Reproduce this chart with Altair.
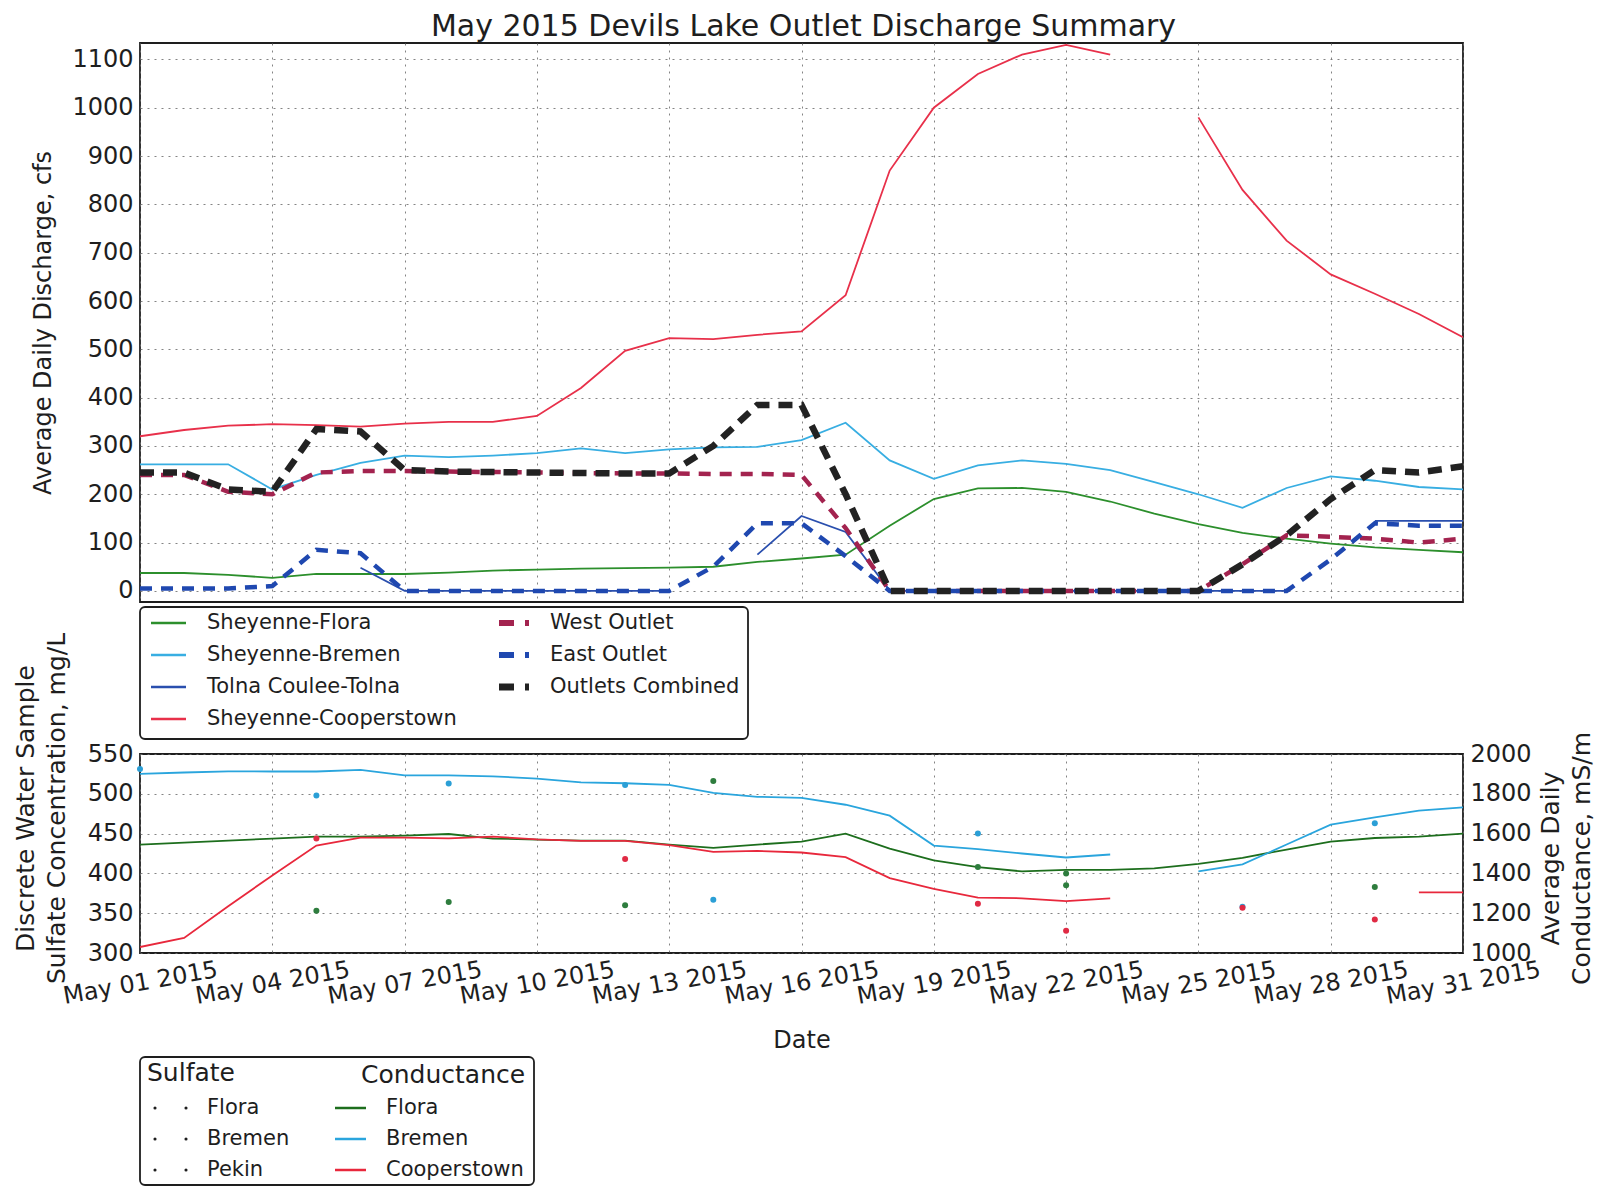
import altair as alt
import pandas as pd

FONT = "DejaVu Sans"
INK = "#1e1e1e"

days = list(range(1, 32))
tick_days = [1, 4, 7, 10, 13, 16, 19, 22, 25, 28, 31]
cfs_ticks = list(range(0, 1101, 100))
sulf_ticks = [300, 350, 400, 450, 500, 550]
cond_ticks = [1000, 1200, 1400, 1600, 1800, 2000]

# ---------------- discharge, cfs (May 1 .. May 31) ----------------
q_flora = [37, 37, 33, 27, 35, 35, 35, 38, 42, 44, 46, 47, 48, 50, 60, 67, 75, 135, 190, 212,
           213, 205, 185, 160, 138, 120, 108, 98, 90, 85, 80]
q_bremen = [262, 262, 262, 210, 240, 265, 280, 277, 280, 285, 295, 285, 293, 297, 298, 312, 348,
            270, 232, 260, 270, 263, 250, 225, 200, 172, 213, 237, 228, 215, 210]
q_tolna = [None, None, None, None, None, 48, 0, 0, 0, 0, 0, 0, 0, None, 75, 155, 122, 0, 0, 0,
           0, 0, 0, 0, 0, 0, 0, None, 145, 145, 145]
q_coop = [320, 333, 342, 345, 343, 340, 346, 350, 350, 362, 420, 497, 523, 521, 530, 537, 612,
          870, 1000, 1070, 1110, 1130, 1110, None, 980, 830, 725, 655, 615, 573, 525]
q_west = [240, 240, 205, 200, 245, 248, 248, 247, 246, 245, 244, 243, 243, 242, 242, 240, 130,
          0, 0, 0, 0, 0, 0, 0, 0, 55, 115, 112, 108, 100, 108]
q_east = [5, 5, 5, 10, 85, 78, 0, 0, 0, 0, 0, 0, 0, 50, 140, 140, 72, 0, 0, 0, 0, 0, 0, 0, 0,
          0, 0, 65, 140, 135, 135]
q_comb = [245, 245, 210, 205, 335, 330, 250, 247, 246, 245, 244, 243, 243, 300, 385, 385, 200,
          0, 0, 0, 0, 0, 0, 0, 0, 55, 115, 190, 250, 245, 258]

series_names = ["Sheyenne-Flora", "Sheyenne-Bremen", "Tolna Coulee-Tolna", "Sheyenne-Cooperstown",
                "West Outlet", "East Outlet", "Outlets Combined"]
series_colors = ["#2c8f2c", "#38aee2", "#2a4fae", "#e8304a", "#a3234f", "#1f48b0", "#222222"]
solid_names = series_names[:4]
outlet_names = ["West Outlet", "East Outlet"]

# ---------------- conductance, mS/m ----------------
c_flora = [1545, 1555, 1565, 1575, 1585, 1585, 1590, 1598, 1575, 1570, 1565, 1565, 1545, 1528,
           1545, 1560, 1600, 1525, 1465, 1432, 1410, 1418, 1418, 1425, 1448, 1478, 1520, 1560,
           1578, 1585, 1600]
c_bremen = [1900, 1907, 1913, 1912, 1912, 1920, 1893, 1893, 1888, 1876, 1857, 1853, 1845, 1805,
            1785, 1780, 1745, 1690, 1540, 1522, 1500, 1480, 1495, None, 1410, 1445, 1545, 1645,
            1682, 1715, 1732]
c_coop = [1030, 1076, 1235, 1390, 1540, 1580, 1580, 1576, 1585, 1571, 1563, 1563, 1542, 1508,
          1513, 1505, 1482, 1376, 1322, 1278, 1275, 1261, 1275, None, None, None, None, None,
          None, 1305, 1305]
cond_names = ["Flora", "Bremen", "Cooperstown"]
cond_colors = ["#1d6e1d", "#2aa5dd", "#e8283c"]

# ---------------- sulfate samples, mg/L ----------------
s_flora_days = [5, 8, 12, 14, 20, 22, 22, 29]
s_flora_vals = [353, 364, 360, 516, 408, 400, 385, 383]
s_bremen_days = [1, 5, 8, 12, 14, 20, 26, 29]
s_bremen_vals = [531, 498, 513, 511, 367, 450, 358, 463]
s_pekin_days = [5, 12, 20, 22, 26, 29]
s_pekin_vals = [444, 418, 362, 328, 357, 342]
sulf_names = ["Flora", "Bremen", "Pekin"]
sulf_colors = ["#2e7d3e", "#2b9fd6", "#e02a44"]


def long_df(names, arrays, value_name, key):
    rows = []
    for name, arr in zip(names, arrays):
        seg = 0
        for d, v in zip(days, arr):
            if v is None:
                seg += 1
                continue
            rows.append({"day": d, key: name, value_name: v, "seg": f"{name}-{seg}"})
    return pd.DataFrame(rows)


q_df = long_df(series_names, [q_flora, q_bremen, q_tolna, q_coop, q_west, q_east, q_comb], "cfs", "series")
c_df = long_df(cond_names, [c_flora, c_bremen, c_coop], "cond", "cseries")
s_rows = []
for name, dd, vv in zip(sulf_names, [s_flora_days, s_bremen_days, s_pekin_days],
                        [s_flora_vals, s_bremen_vals, s_pekin_vals]):
    for d, v in zip(dd, vv):
        s_rows.append({"day": d, "sseries": name, "mgl": v})
s_df = pd.DataFrame(s_rows)

W = 1323
H_TOP = 559
H_BOT = 199

grid_kw = dict(grid=True, gridColor="#6e6e6e", gridDash=[2, 5], gridWidth=1, gridOpacity=0.85,
               ticks=False, domain=False)

# ---------------- top panel ----------------
x_top = alt.X("day:Q", scale=alt.Scale(domain=[1, 31], nice=False, zero=False),
              axis=alt.Axis(values=tick_days, labels=False, title=None, **grid_kw))
y_top = alt.Y("cfs:Q", scale=alt.Scale(domain=[-23, 1134], nice=False, zero=False),
              axis=alt.Axis(values=cfs_ticks, format="d", title="Average Daily Discharge, cfs",
                            labelFontSize=24, titleFontSize=24, labelPadding=7, titlePadding=16,
                            **grid_kw))
color_top = alt.Color("series:N", scale=alt.Scale(domain=series_names, range=series_colors),
                      legend=None)

base_top = alt.Chart(q_df).encode(x=x_top, y=y_top, color=color_top, detail="seg:N",
                                  order="day:Q")
solid_layer = base_top.transform_filter(
    alt.FieldOneOfPredicate(field="series", oneOf=solid_names)).mark_line(strokeWidth=1.8, clip=True)
outlet_layer = base_top.transform_filter(
    alt.FieldOneOfPredicate(field="series", oneOf=outlet_names)).mark_line(
    strokeWidth=4.5, strokeDash=[12, 9], clip=True)
comb_layer = base_top.transform_filter(
    alt.FieldEqualPredicate(field="series", equal="Outlets Combined")).mark_line(
    strokeWidth=6.5, strokeDash=[14, 9], clip=True)
top = alt.layer(solid_layer, outlet_layer, comb_layer).properties(width=W, height=H_TOP)

# ---------------- legend 1 ----------------
L1W, L1H = 608, 132
leg1_df = pd.DataFrame({"series": series_names, "col": [0, 0, 0, 0, 1, 1, 1],
                        "row": [0, 1, 2, 3, 0, 1, 2]})
lx1 = alt.Scale(domain=[0, L1W], nice=False, zero=False)
ly1 = alt.Scale(domain=[0, L1H], nice=False, zero=False, reverse=True)
base1 = alt.Chart(leg1_df).transform_calculate(
    xs="datum.col == 0 ? 11 : 359", xe="datum.col == 0 ? 46 : 389",
    xt="datum.col == 0 ? 67 : 410", yy="16 + datum.row * 32")
t1 = base1.mark_text(align="left", baseline="middle", fontSize=21, font=FONT, color=INK).encode(
    x=alt.X("xt:Q", scale=lx1, axis=None), y=alt.Y("yy:Q", scale=ly1, axis=None), text="series:N")
sym_enc = dict(x=alt.X("xs:Q", scale=lx1, axis=None), x2="xe:Q",
               y=alt.Y("yy:Q", scale=ly1, axis=None), color=color_top)
s1 = base1.transform_filter(alt.FieldOneOfPredicate(field="series", oneOf=solid_names)).mark_rule(
    strokeWidth=2.5).encode(**sym_enc)
s2 = base1.transform_filter(alt.FieldOneOfPredicate(field="series", oneOf=outlet_names)).mark_rule(
    strokeWidth=6, strokeDash=[15, 11]).encode(**sym_enc)
s3 = base1.transform_filter(alt.FieldEqualPredicate(field="series", equal="Outlets Combined")).mark_rule(
    strokeWidth=7, strokeDash=[15, 11]).encode(**sym_enc)
legend1 = alt.layer(s1, s2, s3, t1).properties(
    width=L1W, height=L1H, view=alt.ViewBackground(stroke=INK, strokeWidth=1.8, cornerRadius=5))

# ---------------- bottom panel ----------------
x_bot = alt.X("day:Q", scale=alt.Scale(domain=[1, 31], nice=False, zero=False),
              axis=alt.Axis(values=tick_days,
                            labelExpr="'May ' + (datum.value < 10 ? '0' + datum.value : datum.value) + ' 2015'",
                            labelAngle=350, labelAlign="center", labelBaseline="middle",
                            labelOverlap=False, labelPadding=30, labelFontSize=24,
                            title="Date", titleFontSize=24, titlePadding=20, **grid_kw))
y_sulf = alt.Y("mgl:Q", scale=alt.Scale(domain=[300, 550], nice=False, zero=False),
               axis=alt.Axis(orient="left", values=sulf_ticks, format="d",
                             title=["Discrete Water Sample", "Sulfate Concentration, mg/L"],
                             titleAngle=270, titleX=-102, titleY=54, titleAlign="center",
                             titleBaseline="bottom", titleLineHeight=31, titleFontSize=25,
                             labelFontSize=24, labelPadding=7, **grid_kw))
y_cond = alt.Y("cond:Q", scale=alt.Scale(domain=[1000, 2000], nice=False, zero=False),
               axis=alt.Axis(orient="right", values=cond_ticks, format="d",
                             title=["Average Daily", "Conductance, mS/m"],
                             titleAngle=270, titleX=100, titleY=104, titleAlign="center",
                             titleBaseline="bottom", titleLineHeight=31, titleFontSize=25,
                             labelFontSize=24, labelPadding=7, grid=False, ticks=False,
                             domain=False))
cond_lines = alt.Chart(c_df).mark_line(strokeWidth=1.8, clip=True).encode(
    x=x_bot, y=y_cond,
    color=alt.Color("cseries:N", scale=alt.Scale(domain=cond_names, range=cond_colors), legend=None),
    detail="seg:N", order="day:Q")
sulf_pts = alt.Chart(s_df).mark_circle(size=36, opacity=1).encode(
    x=x_bot, y=y_sulf,
    color=alt.Color("sseries:N", scale=alt.Scale(domain=sulf_names, range=sulf_colors), legend=None))
bottom = alt.layer(cond_lines, sulf_pts).resolve_scale(y="independent", color="independent").properties(
    width=W, height=H_BOT)

# ---------------- legend 2 ----------------
L2W, L2H = 394, 128
lx2 = alt.Scale(domain=[0, L2W], nice=False, zero=False)
ly2 = alt.Scale(domain=[0, L2H], nice=False, zero=False, reverse=True)
head_df = pd.DataFrame({"head": ["Sulfate", "Conductance"], "col": [0, 1]})
heads = alt.Chart(head_df).transform_calculate(
    xh="datum.col == 0 ? 7 : 221", yh="datum.col == 0 ? 16 : 18").mark_text(
    align="left", baseline="middle", fontSize=25, font=FONT, color=INK).encode(
    x=alt.X("xh:Q", scale=lx2, axis=None), y=alt.Y("yh:Q", scale=ly2, axis=None), text="head:N")
leg2s_df = pd.DataFrame({"label": sulf_names, "row": [0, 1, 2]})
leg2c_df = pd.DataFrame({"cseries": cond_names, "row": [0, 1, 2]})
row_y = "51 + datum.row * 31"
s_base = alt.Chart(leg2s_df).transform_calculate(yy=row_y, xa="15", xb="46", xt="67")
dots_a = s_base.mark_circle(size=10, color=INK, opacity=1).encode(
    x=alt.X("xa:Q", scale=lx2, axis=None), y=alt.Y("yy:Q", scale=ly2, axis=None))
dots_b = s_base.mark_circle(size=10, color=INK, opacity=1).encode(
    x=alt.X("xb:Q", scale=lx2, axis=None), y=alt.Y("yy:Q", scale=ly2, axis=None))
s_text = s_base.mark_text(align="left", baseline="middle", fontSize=21, font=FONT, color=INK).encode(
    x=alt.X("xt:Q", scale=lx2, axis=None), y=alt.Y("yy:Q", scale=ly2, axis=None), text="label:N")
c_base = alt.Chart(leg2c_df).transform_calculate(yy=row_y, xs="195", xe="226", xt="246")
c_sym = c_base.mark_rule(strokeWidth=2.5).encode(
    x=alt.X("xs:Q", scale=lx2, axis=None), x2="xe:Q", y=alt.Y("yy:Q", scale=ly2, axis=None),
    color=alt.Color("cseries:N", scale=alt.Scale(domain=cond_names, range=cond_colors), legend=None))
c_text = c_base.mark_text(align="left", baseline="middle", fontSize=21, font=FONT, color=INK).encode(
    x=alt.X("xt:Q", scale=lx2, axis=None), y=alt.Y("yy:Q", scale=ly2, axis=None), text="cseries:N")
legend2 = alt.layer(heads, dots_a, dots_b, s_text, c_sym, c_text).properties(
    width=L2W, height=L2H, view=alt.ViewBackground(stroke=INK, strokeWidth=1.8, cornerRadius=5))


def spacer(h):
    return alt.Chart(pd.DataFrame({"v": [0]})).mark_point(opacity=0).encode(
        x=alt.X("v:Q", axis=None), y=alt.Y("v:Q", axis=None)).properties(
        width=10, height=h, view=alt.ViewBackground(stroke="transparent"))


chart = alt.vconcat(top, spacer(5), legend1, spacer(15), bottom, spacer(104), legend2,
                    spacing=0, bounds="flush").resolve_scale(color="independent").properties(
    title=alt.TitleParams("May 2015 Devils Lake Outlet Discharge Summary", fontSize=30, font=FONT,
                          fontWeight="normal", anchor="middle", color=INK, offset=0),
    padding={"left": 4, "top": 4, "right": 0, "bottom": 0},
).configure_view(stroke=INK, strokeWidth=1.8).configure_axis(
    labelFont=FONT, titleFont=FONT, labelColor=INK, titleColor=INK, titleFontWeight="normal")

chart.save("out.html", embed_options={"renderer": "svg", "actions": False})
